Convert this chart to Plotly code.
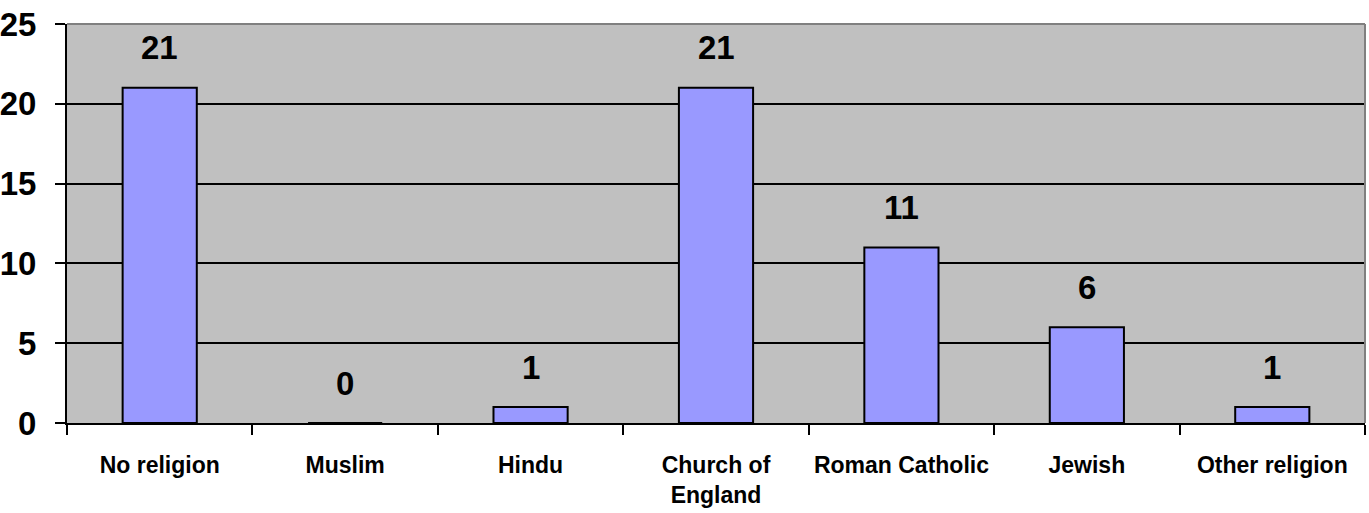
import plotly.graph_objects as go

categories = ["No religion", "Muslim", "Hindu", "Church of<br>England",
              "Roman Catholic", "Jewish", "Other religion"]
counts = [21, 0, 1, 21, 11, 6, 1]
y_ticks = [0, 5, 10, 15, 20, 25]

FONT = "Liberation Sans, Arial, sans-serif"

fig = go.Figure()
fig.add_trace(go.Bar(
    x=categories,
    y=counts,
    width=0.4,
    marker=dict(color="#9999FF", line=dict(color="black", width=2)),
    hoverinfo="x+y",
))

# value labels above each bar
for c, v in zip(categories, counts):
    fig.add_annotation(
        x=c, y=v, text=str(v), showarrow=False,
        yanchor="middle", yshift=40,
        font=dict(family=FONT, size=33, color="black", weight="bold"),
    )

# plot-area frame on the top and right
fig.add_shape(type="line", xref="paper", yref="paper", x0=0, x1=1, y0=1, y1=1,
              line=dict(color="#808080", width=2), layer="above")
fig.add_shape(type="line", xref="paper", yref="paper", x0=1, x1=1, y0=0, y1=1,
              line=dict(color="#808080", width=2), layer="above")

fig.update_layout(
    width=1369, height=513,
    margin=dict(l=67, r=4, t=24, b=90),
    paper_bgcolor="white",
    plot_bgcolor="#C0C0C0",
    showlegend=False,
    bargap=0.6,
    xaxis=dict(
        type="category",
        tickson="boundaries",
        tickangle=0,
        automargin=False,
        ticks="outside", ticklen=10, tickwidth=2, tickcolor="black",
        showline=True, linecolor="black", linewidth=2,
        showgrid=False,
        ticklabelstandoff=20,
        tickfont=dict(family=FONT, size=23, color="black", weight="bold"),
    ),
    yaxis=dict(
        range=[0, 25],
        tickvals=y_ticks,
        automargin=False,
        ticks="outside", ticklen=10, tickwidth=2, tickcolor="black",
        showline=True, linecolor="black", linewidth=2,
        showgrid=True, gridcolor="black", gridwidth=2,
        zeroline=False,
        ticklabelstandoff=12,
        tickfont=dict(family=FONT, size=33, color="black", weight="bold"),
    ),
)

fig.write_html("out.html")
